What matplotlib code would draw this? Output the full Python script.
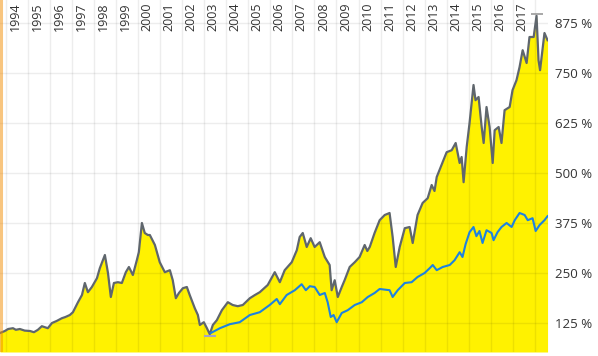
import matplotlib
matplotlib.use("Agg")
import matplotlib.pyplot as plt

plt.rcParams['font.family'] = ['Open Sans', 'DejaVu Sans']

# fund performance (%) - gray line with yellow area
fund_t = [1993.73, 1993.95, 1994.10, 1994.32, 1994.45, 1994.63, 1994.85, 1995.09,
          1995.27, 1995.45, 1995.63, 1995.90, 1996.09, 1996.30, 1996.54, 1996.70,
          1996.90, 1997.04, 1997.27, 1997.45, 1997.58, 1997.72, 1997.90, 1998.13,
          1998.26, 1998.49, 1998.63, 1998.76, 1998.90, 1999.08, 1999.26, 1999.44,
          1999.58, 1999.76, 1999.94, 2000.03, 2000.17, 2000.30, 2000.44, 2000.53,
          2000.76, 2000.98, 2001.21, 2001.44, 2001.57, 2001.71, 2001.85, 2002.03,
          2002.21, 2002.34, 2002.57, 2002.71, 2002.80, 2002.98, 2003.12, 2003.25,
          2003.39, 2003.57, 2003.80, 2004.07, 2004.29, 2004.52, 2004.75, 2004.98,
          2005.07, 2005.30, 2005.52, 2005.88, 2006.20, 2006.43, 2006.65, 2006.97,
          2007.20, 2007.33, 2007.47, 2007.65, 2007.83, 2008.01, 2008.24, 2008.47,
          2008.69, 2008.78, 2008.92, 2009.06, 2009.24, 2009.37, 2009.60, 2009.83,
          2010.05, 2010.28, 2010.40, 2010.51, 2010.73, 2010.96, 2011.19, 2011.41,
          2011.55, 2011.69, 2011.87, 2012.10, 2012.32, 2012.46, 2012.68, 2012.91,
          2013.14, 2013.32, 2013.45, 2013.55, 2013.77, 2014.00, 2014.23, 2014.41,
          2014.59, 2014.68, 2014.77, 2014.91, 2015.04, 2015.22, 2015.31, 2015.45,
          2015.59, 2015.68, 2015.81, 2015.95, 2016.09, 2016.18, 2016.36, 2016.49,
          2016.63, 2016.86, 2016.99, 2017.17, 2017.31, 2017.45, 2017.63, 2017.76,
          2017.95, 2018.08, 2018.17, 2018.24, 2018.44, 2018.58]
fund_v = [100, 105, 110, 112, 108, 110, 106, 105,
          102, 108, 117, 112, 125, 130, 137, 140,
          145, 152, 177, 195, 225, 202, 215, 237,
          262, 295, 250, 190, 225, 227, 225, 252,
          265, 245, 282, 302, 375, 350, 345, 345,
          320, 277, 252, 257, 232, 187, 200, 212,
          215, 195, 162, 145, 120, 127, 112, 97,
          120, 132, 157, 177, 170, 167, 170, 182,
          187, 195, 202, 220, 252, 227, 257, 277,
          307, 340, 350, 315, 337, 315, 327, 290,
          270, 207, 232, 190, 215, 232, 265, 277,
          290, 320, 305, 315, 350, 382, 395, 400,
          340, 265, 315, 362, 365, 325, 395, 425,
          437, 470, 455, 490, 520, 552, 557, 575,
          525, 540, 477, 565, 625, 720, 682, 690,
          615, 575, 665, 615, 525, 607, 615, 575,
          657, 665, 707, 732, 765, 807, 775, 840,
          840, 893, 782, 757, 850, 832]

# benchmark (%) - blue line from 2003
bench_t = [2003.30, 2003.71, 2004.16, 2004.61, 2005.07, 2005.52, 2005.97, 2006.29,
           2006.43, 2006.74, 2007.11, 2007.42, 2007.61, 2007.79, 2008.01, 2008.24,
           2008.47, 2008.60, 2008.74, 2008.87, 2009.01, 2009.24, 2009.51, 2009.83,
           2010.15, 2010.42, 2010.73, 2010.96, 2011.41, 2011.55, 2011.78, 2012.10,
           2012.41, 2012.68, 2013.00, 2013.23, 2013.37, 2013.55, 2013.82, 2014.14,
           2014.36, 2014.59, 2014.72, 2014.86, 2015.04, 2015.22, 2015.35, 2015.49,
           2015.63, 2015.81, 2016.04, 2016.13, 2016.31, 2016.49, 2016.72, 2016.95,
           2017.09, 2017.31, 2017.54, 2017.68, 2017.90, 2018.04, 2018.22, 2018.44,
           2018.58]
bench_v = [100, 112, 122, 127, 145, 152, 170, 185,
           172, 195, 207, 222, 207, 217, 215, 195,
           200, 177, 140, 145, 127, 150, 157, 170,
           177, 190, 200, 210, 207, 190, 207, 225,
           227, 240, 250, 262, 270, 257, 265, 270,
           282, 302, 290, 322, 352, 365, 342, 355,
           325, 357, 350, 332, 352, 365, 375, 365,
           382, 400, 395, 382, 387, 355, 370, 382,
           392]

years = list(range(1994, 2019))
year_labels = [str(y) for y in range(1994, 2018)]
y_ticks = [125, 250, 375, 500, 625, 750, 875]
y_labels = ['%d %%' % v for v in y_ticks]

fig = plt.figure(figsize=(5.98, 3.56), dpi=100)
ax = fig.add_axes([0, 4 / 356, 548 / 598, 352 / 356])
y_min, y_max = 52.5, 932.5

ax.fill_between(fund_t, fund_v, y_min, color='#FFF200', lw=0, zorder=1)

# grid on top of the fill
for y in years:
    ax.axvline(y, color='black', alpha=0.07, lw=1, zorder=1.5)
for v in y_ticks:
    ax.axhline(v, color='black', alpha=0.07, lw=1, zorder=1.5)

ax.plot(fund_t, fund_v, color='#5f666d', lw=1.6, zorder=2)
ax.plot(bench_t, bench_v, color='#1e82e0', lw=1.5, zorder=3)

# high / low markers
i_max = fund_v.index(max(fund_v))
i_min = fund_v.index(min(fund_v))
ax.plot(fund_t[i_max], fund_v[i_max] + 5, marker='_', ms=9, mew=1.2,
        color='#9a9a9a', zorder=4)
ax.plot(fund_t[i_min], fund_v[i_min] - 5, marker='_', ms=9, mew=1.5,
        color='#a3a3c8', zorder=4)

# left edge bar
ax.axvline(fund_t[0] + 0.06, color='#f28c00', alpha=0.5, lw=2.2, zorder=5)

for y, lab in zip(years, year_labels):
    ax.text(y + 0.41, y_max - 6, lab, rotation=90, ha='center', va='top',
            fontsize=9, color='#333333', zorder=6)

ax.set_xlim(fund_t[0], 2018.6)
ax.set_ylim(y_min, y_max)
ax.set_xticks([])
ax.yaxis.tick_right()
ax.set_yticks(y_ticks)
ax.set_yticklabels(y_labels, fontsize=9.5, color='#333333')
ax.tick_params(axis='y', length=0, pad=5)
for s in ax.spines.values():
    s.set_visible(False)

fig.savefig('out.png', dpi=100)
